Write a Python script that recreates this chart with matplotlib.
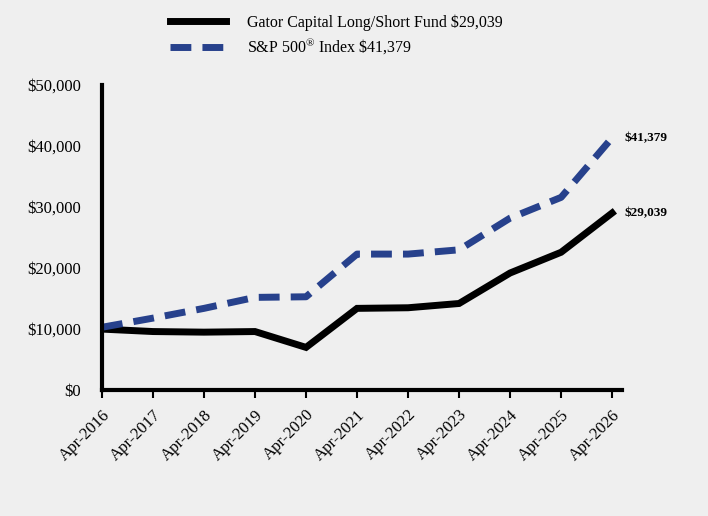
import matplotlib.pyplot as plt
from matplotlib.ticker import FuncFormatter

## Data
years = ['Apr-2016', 'Apr-2017', 'Apr-2018', 'Apr-2019', 'Apr-2020', 'Apr-2021',
         'Apr-2022', 'Apr-2023', 'Apr-2024', 'Apr-2025', 'Apr-2026']
fund = [10000, 9600, 9500, 9600, 7000, 13400, 13500, 14200, 19200, 22600, 29039]
spx = [10300, 11800, 13400, 15200, 15300, 22300, 22300, 23000, 28200, 31600, 41379]
fund_label = 'Gator Capital Long/Short Fund \\$29,039'
spx_label = 'S&P 500$^{®}$ Index \\$41,379'
fund_end = '\\$29,039'
spx_end = '\\$41,379'

BG = '#efefef'
BLUE = '#27418c'

plt.rcParams['font.family'] = ['Liberation Serif', 'DejaVu Serif']
plt.rcParams['mathtext.fontset'] = 'custom'
plt.rcParams['mathtext.rm'] = 'Liberation Serif'

fig = plt.figure(figsize=(7.08, 5.16), dpi=100, facecolor=BG)
ax = fig.add_axes([0.144, 0.244, 0.735, 0.591], facecolor=BG)

x = list(range(len(years)))
l1, = ax.plot(x, fund, color='black', lw=5, solid_joinstyle='miter', label=fund_label)
l2, = ax.plot(x, spx, color=BLUE, lw=5, dashes=(3, 1.6), label=spx_label)

ax.text(x[-1] + 0.25, spx[-1], spx_end, fontsize=9.5, fontweight='bold', va='center')
ax.text(x[-1] + 0.25, fund[-1], fund_end, fontsize=9.5, fontweight='bold', va='center')

ax.set_xlim(0, len(years) - 1 + 0.2)
ax.set_ylim(0, 50000)
ax.set_yticks(range(0, 50001, 10000))
ax.yaxis.set_major_formatter(FuncFormatter(lambda v, p: f'${int(v):,}'))
ax.set_xticks(x)
ax.set_xticklabels(years, rotation=45, ha='right', rotation_mode='anchor')

for s in ['top', 'right']:
    ax.spines[s].set_visible(False)
for s in ['left', 'bottom']:
    ax.spines[s].set_linewidth(3)
ax.tick_params(axis='y', length=0, labelsize=12, pad=15)
ax.tick_params(axis='x', length=6, width=1.5, labelsize=12, pad=6)

fig.legend(handles=[l1, l2], loc='upper left', bbox_to_anchor=(0.22, 1.0),
           frameon=False, fontsize=11.5, handlelength=3.5, handletextpad=1.3,
           labelspacing=0.35)

fig.savefig('out.png', dpi=100, facecolor=BG)
